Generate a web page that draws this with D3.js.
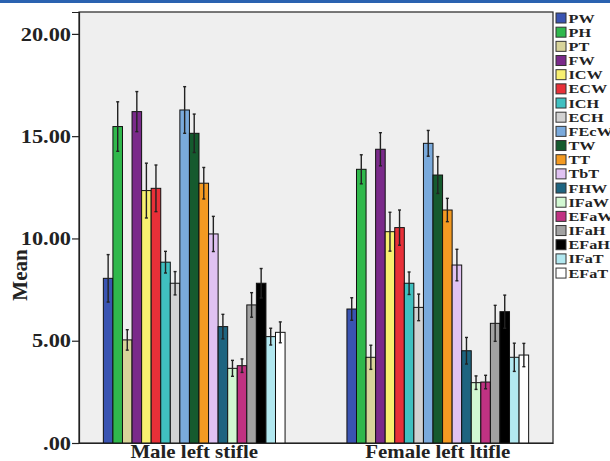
<!DOCTYPE html>
<html>
<head>
<meta charset="utf-8">
<script src="https://cdn.jsdelivr.net/npm/d3@7"></script>
<style>
  body { margin: 0; background: #fff; }
  svg text { font-family: "Liberation Serif", "Times New Roman", serif; font-weight: bold; }
</style>
</head>
<body>
<div class="chart"></div>
<script>
const groups = ["Male left stifle", "Female left ltifle"];
const measures = ["PW", "PH", "PT", "FW", "ICW", "ECW", "ICH", "ECH", "FEcW", "TW", "TT", "TbT", "FHW", "IFaW", "EFaW", "IFaH", "EFaH", "IFaT", "EFaT"];
const colors = ["#3a54b2", "#30b84c", "#d8d49a", "#7a2a8a", "#f8f070", "#e83038", "#40c0c0", "#d2d2d2", "#7aaadc", "#155a2e", "#f39a22", "#e0c2f2", "#1e6480", "#d2f8d2", "#c03282", "#a2a2a2", "#000000", "#b2e8f0", "#ffffff"];
const maleMean = [8.05, 15.47, 5.04, 16.2, 12.34, 12.45, 8.84, 7.81, 16.28, 15.14, 12.7, 10.22, 5.69, 3.65, 3.78, 6.75, 7.81, 5.2, 5.41];
const maleErr = [1.16, 1.21, 0.5, 0.98, 1.34, 1.14, 0.53, 0.57, 1.14, 0.94, 0.77, 0.86, 0.6, 0.39, 0.33, 0.6, 0.72, 0.41, 0.51];
const femaleMean = [6.55, 13.38, 4.19, 14.36, 10.33, 10.53, 7.81, 6.63, 14.65, 13.1, 11.39, 8.7, 4.51, 2.95, 2.98, 5.85, 6.42, 4.19, 4.3];
const femaleErr = [0.55, 0.71, 0.59, 0.81, 0.95, 0.86, 0.55, 0.65, 0.63, 0.9, 0.57, 0.77, 0.65, 0.33, 0.33, 0.88, 0.81, 0.69, 0.57];
const yTicks = [0, 5, 10, 15, 20];
const yTickLabels = [".00", "5.00", "10.00", "15.00", "20.00"];

const width = 610, height = 461;
const margin = { top: 12, right: 57, bottom: 18, left: 79 };

const means = [maleMean, femaleMean];
const errs = [maleErr, femaleErr];
const data = [];
groups.forEach((g, gi) => measures.forEach((m, mi) => {
    data.push({ group: g, measure: m, mean: means[gi][mi], err: errs[gi][mi] });
}));

// the source picture is stretched sideways, so widen texts a bit
function stretch(sel, k) {
    sel.each(function() {
        const w = this.getComputedTextLength();
        d3.select(this).attr("textLength", w * k).attr("lengthAdjust", "spacingAndGlyphs");
    });
}

const svg = d3.select("div.chart")
    .append("svg")
    .attr("width", width)
    .attr("height", height);

// blue strip at the very top
svg.append("rect")
    .attr("x", 0).attr("y", 0)
    .attr("width", width).attr("height", 3)
    .attr("fill", "#2a62b0");

const x0 = d3.scaleBand()
    .domain(groups)
    .range([margin.left, width - margin.right])
    .paddingInner(0.254)
    .paddingOuter(0.1);

const x1 = d3.scaleBand()
    .domain(measures)
    .range([0, x0.bandwidth()]);

const y = d3.scaleLinear()
    .domain([0, 21.07])
    .range([height - margin.bottom, margin.top]);

const color = d3.scaleOrdinal().domain(measures).range(colors);

// plot background
svg.append("rect")
    .attr("x", margin.left)
    .attr("y", margin.top)
    .attr("width", width - margin.left - margin.right)
    .attr("height", height - margin.top - margin.bottom)
    .attr("fill", "#efefef")
    .attr("stroke", "#222")
    .attr("stroke-width", 1.2);

// bars
svg.append("g")
    .selectAll("rect")
    .data(data)
    .join("rect")
    .attr("x", d => x0(d.group) + x1(d.measure))
    .attr("y", d => y(d.mean))
    .attr("width", x1.bandwidth())
    .attr("height", d => y(0) - y(d.mean))
    .attr("fill", d => color(d.measure))
    .attr("stroke", "#111")
    .attr("stroke-width", 1);

// error bars
const eb = svg.append("g")
    .attr("stroke", "#222")
    .attr("stroke-width", 1.4);
const cx = d => x0(d.group) + x1(d.measure) + x1.bandwidth() / 2;
eb.selectAll("line.v")
    .data(data)
    .join("line")
    .attr("class", "v")
    .attr("x1", cx).attr("x2", cx)
    .attr("y1", d => y(d.mean - d.err))
    .attr("y2", d => y(d.mean + d.err));
["lo", "hi"].forEach(k => {
    eb.selectAll("line." + k)
        .data(data)
        .join("line")
        .attr("class", k)
        .attr("x1", d => cx(d) - 1.5).attr("x2", d => cx(d) + 1.5)
        .attr("y1", d => y(k === "lo" ? d.mean - d.err : d.mean + d.err))
        .attr("y2", d => y(k === "lo" ? d.mean - d.err : d.mean + d.err));
});

// y axis
const yAxis = svg.append("g")
    .attr("transform", `translate(${margin.left},0)`)
    .call(d3.axisLeft(y)
        .tickValues(yTicks)
        .tickFormat((d, i) => yTickLabels[i])
        .tickSize(7)
        .tickPadding(1));
yAxis.select(".domain").attr("stroke", "#222").attr("stroke-width", 1.2);
yAxis.selectAll(".tick line").attr("stroke", "#222").attr("stroke-width", 1.2);
yAxis.selectAll(".tick text")
    .attr("fill", "#222")
    .style("font-size", "18px")
    .attr("dy", "0.34em")
    .call(stretch, 1.24);

// x axis labels
svg.append("g")
    .attr("transform", `translate(0,${height - margin.bottom})`)
    .call(d3.axisBottom(x0).tickSize(0).tickPadding(2))
    .call(g => g.select(".domain").attr("stroke", "#222").attr("stroke-width", 1.2))
    .selectAll(".tick text")
    .attr("fill", "#222")
    .style("font-size", "19px")
    .attr("dy", "0.68em")
    .call(stretch, 1.1);

// y title
svg.append("text")
    .attr("transform", `translate(27,275) rotate(-90)`)
    .attr("text-anchor", "middle")
    .attr("fill", "#222")
    .style("font-size", "21px")
    .text("Mean");

// legend
const legend = svg.append("g")
    .attr("transform", `translate(556,13)`);
const item = legend.selectAll("g")
    .data(measures)
    .join("g")
    .attr("transform", (d, i) => `translate(0,${i * 14.17})`);
item.append("rect")
    .attr("width", 10).attr("height", 10)
    .attr("fill", d => color(d))
    .attr("stroke", "#333")
    .attr("stroke-width", 1);
item.append("text")
    .attr("x", 12.5).attr("y", 9.5)
    .attr("fill", "#222")
    .style("font-size", "13.5px")
    .text(d => d)
    .call(stretch, 1.2);
</script>
</body>
</html>
